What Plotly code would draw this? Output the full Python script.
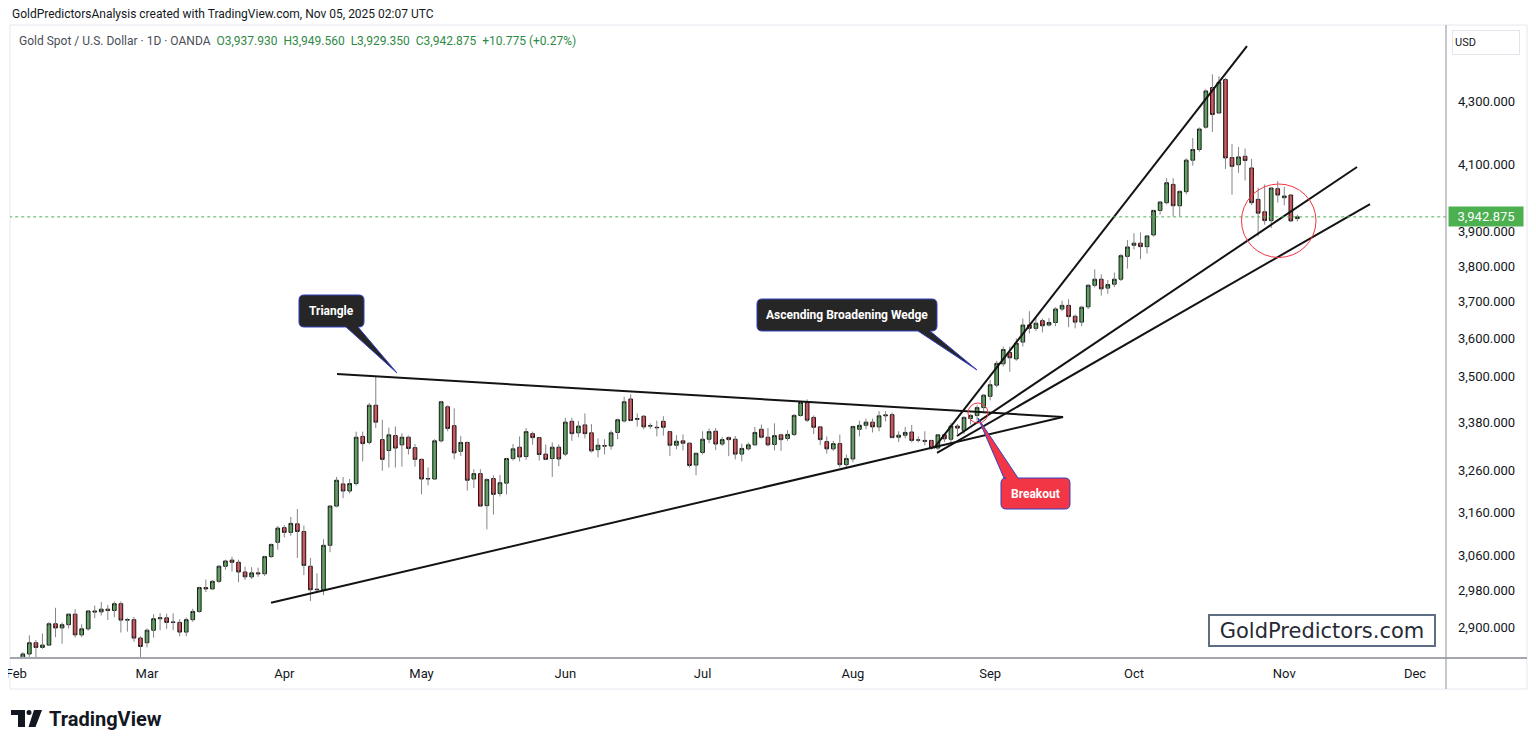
import math
import pandas as pd
import plotly.graph_objects as go

# ---------------- data ----------------
calendar = [d for d in pd.bdate_range("2025-02-03", "2025-12-05") if d != pd.Timestamp("2025-04-18")]

opens = [2800, 2815, 2842, 2866, 2856, 2861, 2907, 2898, 2905, 2928,
         2883, 2896, 2935, 2933, 2939, 2936, 2951, 2915, 2916, 2876,
         2866, 2893, 2918, 2920, 2911, 2910, 2889, 2916, 2934, 2987,
         2984, 3001, 3035, 3049, 3044, 3022, 3011, 3020, 3018, 3057,
         3090, 3124, 3113, 3133, 3115, 3035, 2982, 2982, 3083, 3175,
         3228, 3211, 3229, 3345, 3330, 3424, 3337, 3310, 3347, 3324,
         3343, 3317, 3288, 3240, 3240, 3334, 3420, 3372, 3308, 3330,
         3240, 3253, 3176, 3241, 3205, 3230, 3290, 3318, 3295, 3352,
         3342, 3301, 3290, 3318, 3301, 3383, 3354, 3374, 3354, 3312,
         3322, 3321, 3355, 3384, 3440, 3388, 3396, 3371, 3368, 3383,
         3357, 3323, 3334, 3328, 3274, 3305, 3338, 3358, 3326, 3342,
         3338, 3301, 3314, 3324, 3363, 3343, 3325, 3349, 3340, 3350,
         3398, 3431, 3393, 3369, 3332, 3314, 3327, 3275, 3289, 3363,
         3373, 3381, 3369, 3397, 3400, 3343, 3348, 3356, 3336, 3335,
         3335, 3316, 3349, 3338, 3371, 3360, 3390, 3398, 3418, 3447,
         3476, 3532, 3562, 3545, 3590, 3636, 3627, 3648, 3636, 3643,
         3680, 3690, 3660, 3644, 3686, 3746, 3763, 3738, 3749, 3763,
         3828, 3860, 3866, 3856, 3890, 3962, 3985, 4040, 3976, 4018,
         4114, 4147, 4217, 4344, 4262, 4370, 4122, 4100, 4126, 4090,
         3995, 3958, 3932, 4027, 4000, 4008, 3937.93]
highs = [2831, 2846, 2882, 2872, 2886, 2911, 2942, 2910, 2929, 2939,
         2906, 2937, 2947, 2955, 2948, 2956, 2956, 2920, 2922, 2880,
         2897, 2928, 2930, 2929, 2930, 2917, 2921, 2940, 2989, 3005,
         3004, 3038, 3050, 3057, 3050, 3034, 3033, 3032, 3059, 3087,
         3128, 3130, 3149, 3168, 3129, 3054, 3019, 3097, 3176, 3245,
         3245, 3240, 3357, 3357, 3430, 3500, 3387, 3367, 3370, 3353,
         3347, 3326, 3290, 3268, 3338, 3435, 3424, 3416, 3346, 3332,
         3264, 3264, 3241, 3249, 3250, 3292, 3326, 3345, 3366, 3357,
         3344, 3325, 3330, 3325, 3392, 3392, 3384, 3403, 3376, 3340,
         3338, 3360, 3390, 3446, 3452, 3403, 3399, 3378, 3385, 3396,
         3358, 3348, 3350, 3330, 3305, 3358, 3365, 3366, 3344, 3345,
         3346, 3327, 3330, 3369, 3375, 3366, 3378, 3352, 3361, 3402,
         3434, 3439, 3398, 3370, 3345, 3334, 3350, 3300, 3372, 3385,
         3390, 3390, 3409, 3409, 3405, 3358, 3369, 3374, 3345, 3358,
         3336, 3351, 3352, 3379, 3376, 3396, 3402, 3424, 3453, 3489,
         3540, 3578, 3578, 3600, 3654, 3674, 3658, 3654, 3655, 3685,
         3703, 3707, 3665, 3689, 3749, 3791, 3777, 3761, 3782, 3835,
         3875, 3895, 3897, 3889, 3964, 3990, 4059, 4059, 4022, 4120,
         4183, 4216, 4338, 4387, 4381, 4376, 4164, 4155, 4150, 4118,
         4030, 4040, 4030, 4050, 4033, 4010, 3949.56]
lows = [2772, 2810, 2836, 2834, 2853, 2859, 2878, 2864, 2897, 2877,
        2878, 2892, 2919, 2925, 2915, 2921, 2888, 2890, 2868, 2832,
        2856, 2877, 2893, 2896, 2893, 2880, 2880, 2911, 2931, 2977,
        2982, 2997, 3027, 3023, 2999, 3004, 3006, 3011, 3013, 3054,
        3073, 3101, 3105, 3054, 3015, 2957, 2975, 2970, 3067, 3172,
        3194, 3205, 3224, 3283, 3325, 3366, 3260, 3268, 3268, 3270,
        3300, 3270, 3203, 3225, 3238, 3330, 3358, 3288, 3296, 3212,
        3218, 3174, 3120, 3155, 3198, 3203, 3285, 3283, 3287, 3324,
        3285, 3286, 3245, 3271, 3296, 3334, 3343, 3340, 3305, 3293,
        3300, 3312, 3338, 3380, 3384, 3370, 3363, 3364, 3345, 3347,
        3296, 3313, 3310, 3268, 3249, 3300, 3328, 3311, 3321, 3296,
        3288, 3283, 3310, 3322, 3340, 3320, 3310, 3309, 3334, 3346,
        3395, 3381, 3351, 3324, 3302, 3309, 3268, 3268, 3281, 3345,
        3363, 3355, 3358, 3383, 3341, 3331, 3340, 3330, 3330, 3323,
        3312, 3311, 3331, 3321, 3351, 3351, 3375, 3385, 3408, 3437,
        3470, 3525, 3511, 3540, 3578, 3613, 3620, 3616, 3632, 3633,
        3674, 3630, 3627, 3633, 3680, 3740, 3717, 3722, 3741, 3758,
        3793, 3848, 3820, 3836, 3885, 3950, 3980, 3944, 3944, 4010,
        4097, 4140, 4212, 4202, 4262, 4087, 4009, 4075, 4052, 3978,
        3886, 3920, 3910, 3985, 3977, 3928, 3929.35]
closes = [2815, 2842, 2866, 2856, 2861, 2907, 2898, 2905, 2928, 2883,
          2896, 2935, 2933, 2939, 2936, 2951, 2915, 2916, 2876, 2858,
          2893, 2918, 2920, 2910, 2910, 2889, 2916, 2934, 2987, 2984,
          3001, 3035, 3047, 3044, 3022, 3011, 3020, 3018, 3057, 3085,
          3123, 3113, 3134, 3115, 3037, 2982, 2983, 3083, 3175, 3237,
          3211, 3229, 3343, 3327, 3424, 3381, 3288, 3349, 3316, 3343,
          3315, 3288, 3240, 3241, 3334, 3433, 3365, 3304, 3330, 3237,
          3253, 3175, 3239, 3203, 3231, 3290, 3314, 3294, 3357, 3342,
          3300, 3288, 3318, 3289, 3381, 3352, 3371, 3352, 3309, 3323,
          3321, 3354, 3387, 3433, 3385, 3390, 3369, 3372, 3367, 3368,
          3323, 3333, 3328, 3273, 3303, 3338, 3357, 3326, 3337, 3337,
          3301, 3315, 3324, 3355, 3343, 3324, 3347, 3337, 3350, 3398,
          3431, 3386, 3368, 3337, 3314, 3327, 3275, 3290, 3370, 3373,
          3381, 3369, 3397, 3399, 3342, 3348, 3355, 3335, 3336, 3333,
          3316, 3349, 3339, 3371, 3366, 3393, 3398, 3418, 3450, 3477,
          3533, 3570, 3548, 3587, 3636, 3627, 3641, 3634, 3643, 3680,
          3690, 3659, 3644, 3685, 3746, 3763, 3736, 3748, 3763, 3830,
          3855, 3866, 3856, 3887, 3962, 3987, 4045, 3976, 4019, 4114,
          4147, 4211, 4333, 4257, 4361, 4121, 4095, 4124, 4113, 3985,
          3954, 3932, 4029, 4008, 4005, 3931, 3942.875]

month_labels = ["Feb", "Mar", "Apr", "May", "Jun", "Jul", "Aug", "Sep", "Oct", "Nov", "Dec"]
price_ticks = [2900, 2980, 3060, 3160, 3260, 3380, 3500, 3600, 3700, 3800, 3900, 4100, 4300]
last_price = 3942.875

# drawn trend lines (bar index, price) -> (bar index, price)
trend_names = ["triangle_top", "triangle_bottom", "wedge_upper", "wedge_middle", "wedge_lower"]
trend_x0 = [49.07, 38.97, 140.4, 143.92, 140.87]
trend_y0 = [3505, 2953, 3316, 3346, 3304]
trend_x1 = [160.15, 160.15, 188.29, 205.13, 207.12]
trend_y1 = [3394, 3394, 4481, 4093, 3981]

# ---------------- geometry of the page ----------------
OFF = 8                      # default body margin of the html page
W, H = 1536 - 2 * OFF, 748 - 2 * OFF
PL, PR, PT, PB = 10, 1446, 25, 658   # plot area in page pixels
PW, PH = PR - PL, PB - PT


def fx(x):
    return (x - PL) / PW


def fy(y):
    return (PB - y) / PH


n = len(closes)
xs = list(range(n))
month_pos = []
seen = set()
for i, d in enumerate(calendar):
    key = (d.year, d.month)
    if key not in seen:
        seen.add(key)
        month_pos.append(i)
month_pos = month_pos[:len(month_labels)]

fig = go.Figure()

# wicks
wx, wy = [], []
for i in xs:
    wx += [i, i, None]
    wy += [lows[i], highs[i], None]
fig.add_trace(go.Scatter(x=wx, y=wy, mode="lines", line=dict(color="#858585", width=1),
                         hoverinfo="skip", showlegend=False))

# bodies
body_hi = [max(o, c) for o, c in zip(opens, closes)]
body_lo = [min(o, c) for o, c in zip(opens, closes)]
fig.add_trace(go.Candlestick(
    x=xs, open=opens, high=body_hi, low=body_lo, close=closes,
    increasing=dict(line=dict(color="#151d15", width=1), fillcolor="#4caf50"),
    decreasing=dict(line=dict(color="#231515", width=1), fillcolor="#f23645"),
    whiskerwidth=0, showlegend=False, hoverinfo="skip"))

# trend lines
for x0, y0, x1, y1 in zip(trend_x0, trend_y0, trend_x1, trend_y1):
    fig.add_trace(go.Scatter(x=[x0, x1], y=[y0, y1], mode="lines",
                             line=dict(color="#131313", width=2), hoverinfo="skip",
                             showlegend=False))

# last price dotted line
fig.add_trace(go.Scatter(x=[-2, 230], y=[last_price, last_price], mode="lines",
                         line=dict(color="#4caf50", width=1, dash="dot"),
                         hoverinfo="skip", showlegend=False))

x_lo = (PL - 16.3) / 6.536
x_hi = (PR - 16.3) / 6.536
p_lo = 2900 * math.exp(-(PB - 627) / 1335)
p_hi = 2900 * math.exp((627 - PT) / 1335)

shapes = []


def callout_path(x0, y0, x1, y1, r, tail_side, a, b, tip):
    pts = []
    pts.append(("M", [(x0 + r, y0)]))
    if tail_side == "top":
        pts.append(("L", [(a, y0)]))
        pts.append(("L", [tip]))
        pts.append(("L", [(b, y0)]))
    pts.append(("L", [(x1 - r, y0)]))
    pts.append(("Q", [(x1, y0), (x1, y0 + r)]))
    pts.append(("L", [(x1, y1 - r)]))
    pts.append(("Q", [(x1, y1), (x1 - r, y1)]))
    if tail_side == "bottom":
        pts.append(("L", [(b, y1)]))
        pts.append(("L", [tip]))
        pts.append(("L", [(a, y1)]))
    pts.append(("L", [(x0 + r, y1)]))
    pts.append(("Q", [(x0, y1), (x0, y1 - r)]))
    pts.append(("L", [(x0, y0 + r)]))
    pts.append(("Q", [(x0, y0), (x0 + r, y0)]))
    s = ""
    for cmd, p in pts:
        s += cmd + " " + " ".join(f"{fx(px):.5f},{fy(py):.5f}" for px, py in p) + " "
    return s + "Z"


shapes.append(dict(type="path", xref="paper", yref="paper",
                   path=callout_path(299, 295, 364, 327, 5, "bottom", 346, 358, (397, 373)),
                   fillcolor="#262626", line=dict(color="#3340c0", width=1), layer="above"))
shapes.append(dict(type="path", xref="paper", yref="paper",
                   path=callout_path(757, 299, 937, 331, 5, "bottom", 918, 930, (977, 370)),
                   fillcolor="#262626", line=dict(color="#3340c0", width=1), layer="above"))
shapes.append(dict(type="path", xref="paper", yref="paper",
                   path=callout_path(1001, 478, 1070, 509, 5, "top", 1004, 1018, (978, 418)),
                   fillcolor="#f23645", line=dict(color="#3340c0", width=1), layer="above"))

# circles
shapes.append(dict(type="circle", xref="paper", yref="paper",
                   x0=fx(968), x1=fx(988), y0=fy(423), y1=fy(403),
                   line=dict(color="#f23645", width=1)))
shapes.append(dict(type="circle", xref="paper", yref="paper",
                   x0=fx(1241.5), x1=fx(1316), y0=fy(257.5), y1=fy(184),
                   line=dict(color="#f23645", width=1)))

# frame lines
shapes.append(dict(type="line", xref="paper", yref="paper", x0=fx(PL), x1=fx(1527),
                   y0=fy(PB), y1=fy(PB), line=dict(color="#a3a6af", width=2)))
shapes.append(dict(type="line", xref="paper", yref="paper", x0=fx(PR), x1=fx(PR),
                   y0=fy(PT), y1=fy(689), line=dict(color="#8d9099", width=1)))
shapes.append(dict(type="rect", xref="paper", yref="paper", x0=fx(PL), x1=fx(1527),
                   y0=fy(689), y1=fy(PT), line=dict(color="#e6e8ee", width=1),
                   fillcolor="rgba(0,0,0,0)", layer="below"))


# TradingView logo mark
def poly(points):
    return "M " + " L ".join(f"{fx(a):.5f},{fy(b):.5f}" for a, b in points) + " Z"


shapes.append(dict(type="path", xref="paper", yref="paper",
                   path=poly([(11, 710), (25, 710), (25, 727), (18, 727), (18, 715), (11, 715)]),
                   fillcolor="#131722", line=dict(width=0)))
shapes.append(dict(type="circle", xref="paper", yref="paper",
                   x0=fx(26.5), x1=fx(31.5), y0=fy(715), y1=fy(710),
                   fillcolor="#131722", line=dict(width=0)))
shapes.append(dict(type="path", xref="paper", yref="paper",
                   path=poly([(34, 710), (42, 710), (35.5, 727), (28.5, 727)]),
                   fillcolor="#131722", line=dict(width=0)))

annotations = []
FONT = "Roboto"


def label(x, y, text, size, color, xanchor="center", family=FONT, **kw):
    d = dict(xref="paper", yref="paper", x=fx(x), y=fy(y), xanchor=xanchor, yanchor="middle",
             showarrow=False, text=text, font=dict(family=family, size=size, color=color))
    d.update(kw)
    annotations.append(d)


label(10, 14, "GoldPredictorsAnalysis created with TradingView.com, Nov 05, 2025 02:07 UTC",
      12, "#131722", xanchor="left")
g = "#2f8a45"
nb = "\u00a0"
legend_txt = (f"<span style='color:#4a4d57'>Gold Spot / U.S. Dollar · 1D · OANDA</span>{nb}{nb}"
              f"<span style='color:{g}'>O3,937.930{nb}{nb}H3,949.560{nb}{nb}L3,929.350{nb}{nb}"
              f"C3,942.875{nb}{nb}+10.775 (+0.27%)</span>")
label(17, 41, legend_txt, 12, "#4a4d57", xanchor="left")
label(331.5, 311, "<b>Triangle</b>", 12, "white")
label(847, 315, "<b>Ascending Broadening Wedge</b>", 12, "white")
label(1035.5, 493.5, "<b>Breakout</b>", 12, "white")
label(1448, 216.5, "3,942.875", 13, "white", xanchor="left",
      bgcolor="#4caf50", borderpad=2, width=70)
label(1452, 42.5, "USD", 11, "#131722", xanchor="left", align="left",
      width=62, height=19, bgcolor="white", bordercolor="#e3e5ea", borderwidth=1, borderpad=2)
label(1322, 630.5, "GoldPredictors.com", 21, "#262a35", family="DejaVu Sans",
      bgcolor="white", bordercolor="#5e6f84", borderwidth=2, borderpad=2, width=220, height=25)
label(47, 718.5, "<b>TradingView</b>", 20, "#131722", xanchor="left")

fig.update_layout(
    width=W, height=H, autosize=False,
    margin=dict(l=PL - OFF, r=W + OFF - PR, t=PT - OFF, b=H + OFF - PB, pad=0,
                autoexpand=False),
    paper_bgcolor="white", plot_bgcolor="white",
    showlegend=False, hovermode=False, boxgap=0.2,
    shapes=shapes, annotations=annotations,
    font=dict(family=FONT, size=12, color="#131722"),
    xaxis=dict(range=[x_lo, x_hi], tickmode="array", tickvals=month_pos, ticktext=month_labels,
               showgrid=False, zeroline=False, showline=False, ticks="",
               rangeslider=dict(visible=False), ticklabelstandoff=6,
               ticklabeloverflow="allow", automargin=False,
               tickfont=dict(family=FONT, size=13, color="#131722")),
    yaxis=dict(type="log", range=[math.log10(p_lo), math.log10(p_hi)], side="right",
               tickmode="array", tickvals=price_ticks, tickformat=",.3f",
               showgrid=False, zeroline=False, showline=False, ticks="",
               ticklabelstandoff=11, automargin=False,
               tickfont=dict(family=FONT, size=13, color="#131722")),
)

fig.write_html("out.html")
